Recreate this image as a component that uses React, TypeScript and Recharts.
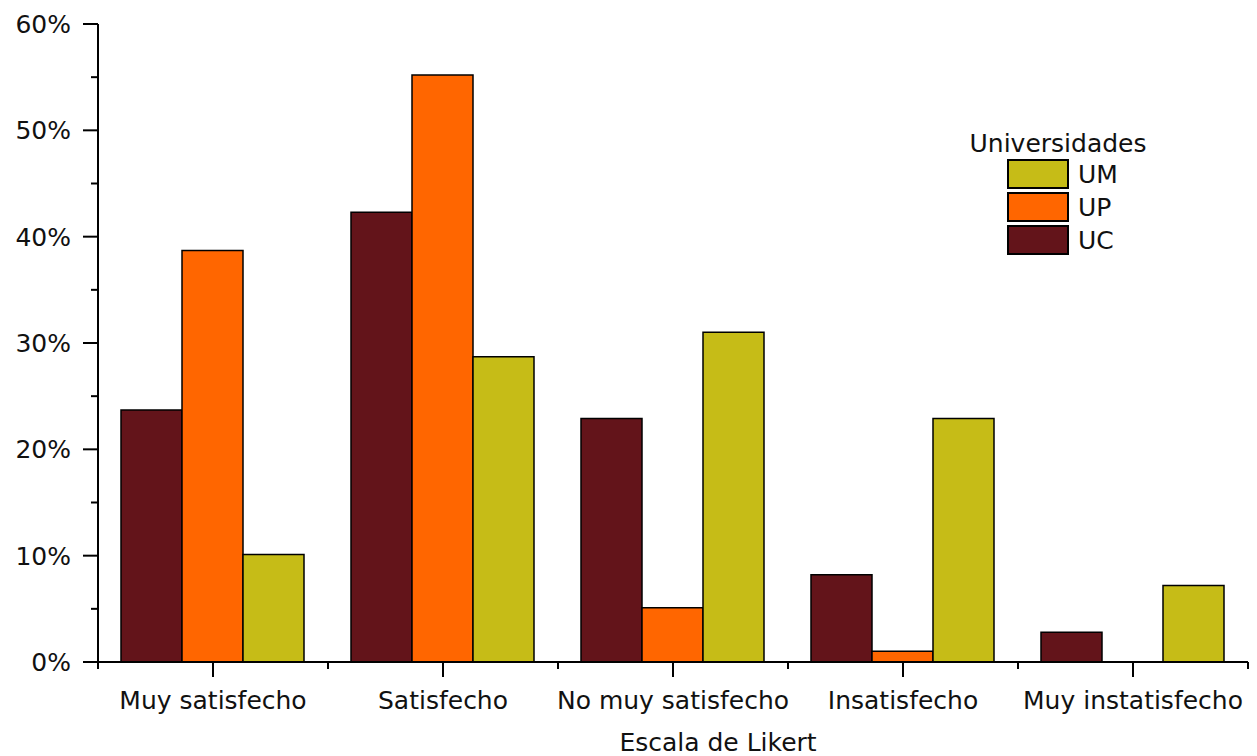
import React from 'react';
import { BarChart, Bar, XAxis, YAxis, Legend } from 'recharts';

document.body.style.margin = '0';

const categories = ['Muy satisfecho', 'Satisfecho', 'No muy satisfecho', 'Insatisfecho', 'Muy instatisfecho'];
const ucValues = [23.7, 42.3, 22.9, 8.2, 2.8];
const upValues = [38.7, 55.2, 5.1, 1.0, 0];
const umValues = [10.1, 28.7, 31.0, 22.9, 7.2];
const yTicks = [0, 5, 10, 15, 20, 25, 30, 35, 40, 45, 50, 55, 60];

const series = [
  { key: 'UC', color: '#63141A' },
  { key: 'UP', color: '#FF6600' },
  { key: 'UM', color: '#C6BC17' },
];

const data = categories.map((name, i) => ({
  name,
  UC: ucValues[i],
  UP: upValues[i],
  UM: umValues[i],
}));

const FONT = '"DejaVu Sans", Verdana, sans-serif';
const FS = 25;
const AXIS_X = 98;
const AXIS_Y = 662;
const HALF_BAND = 115;

const YTick = (props: any) => {
  const { y, payload } = props;
  const major = payload.value % 10 === 0;
  return (
    <g>
      <line x1={AXIS_X - (major ? 15 : 7)} x2={AXIS_X} y1={y} y2={y} stroke="#000" strokeWidth={2} />
      {major && (
        <text x={71} y={y} dy="0.36em" textAnchor="end" fontSize={FS} fontFamily={FONT} fill="#111">
          {`${payload.value}%`}
        </text>
      )}
    </g>
  );
};

const XTick = (props: any) => {
  const { x, payload, index } = props;
  const last = index === categories.length - 1;
  return (
    <g>
      <line x1={x} x2={x} y1={AXIS_Y} y2={AXIS_Y + 15} stroke="#000" strokeWidth={2} />
      <line x1={x - HALF_BAND} x2={x - HALF_BAND} y1={AXIS_Y} y2={AXIS_Y + 7} stroke="#000" strokeWidth={2} />
      {last && (
        <line x1={x + HALF_BAND} x2={x + HALF_BAND} y1={AXIS_Y} y2={AXIS_Y + 7} stroke="#000" strokeWidth={2} />
      )}
      <text x={x} y={AXIS_Y + 47} textAnchor="middle" fontSize={FS} fontFamily={FONT} fill="#111">
        {payload.value}
      </text>
    </g>
  );
};

const XTitle = () => (
  <text x={718} y={751} textAnchor="middle" fontSize={FS} fontFamily={FONT} fill="#111">
    Escala de Likert
  </text>
);

const LegendBox = () => {
  const rows = [...series].reverse();
  return (
    <svg width={220} height={150} style={{ display: 'block', overflow: 'visible' }}>
      <text x={98} y={32} textAnchor="middle" fontSize={FS} fontFamily={FONT} fill="#111">
        Universidades
      </text>
      {rows.map((s, i) => (
        <g key={s.key}>
          <rect x={48} y={40 + i * 33} width={60} height={28} fill={s.color} stroke="#000" strokeWidth={2} />
          <text x={118} y={63 + i * 33} fontSize={FS} fontFamily={FONT} fill="#111">
            {s.key}
          </text>
        </g>
      ))}
    </svg>
  );
};

export default function App() {
  return (
    <div style={{ width: 1257, height: 756, background: '#fff', overflow: 'hidden' }}>
      <BarChart
        width={1257}
        height={756}
        data={data}
        margin={{ top: 24, right: 9, left: 0, bottom: 0 }}
        barCategoryGap={23}
        barGap={0}
      >
        <XAxis
          dataKey="name"
          height={94}
          axisLine={{ stroke: '#000', strokeWidth: 2 }}
          tickLine={false}
          tick={<XTick />}
          interval={0}
          label={{ content: () => <XTitle /> }}
        />
        <XAxis xAxisId="top" dataKey="name" orientation="top" height={0} tick={false} tickLine={false}
          axisLine={{ stroke: '#000', strokeWidth: 2 }} />
        <YAxis
          width={98}
          domain={[0, 60]}
          ticks={yTicks}
          interval={0}
          axisLine={{ stroke: '#000', strokeWidth: 2 }}
          tickLine={false}
          tick={<YTick />}
        />
        <YAxis yAxisId="right" orientation="right" width={0} domain={[0, 60]} tick={false} tickLine={false}
          axisLine={{ stroke: '#000', strokeWidth: 2 }} />
        <Legend
          layout="vertical"
          align="center"
          verticalAlign="middle"
          content={() => <LegendBox />}
          wrapperStyle={{ position: 'absolute', left: 960, top: 120, width: 220, height: 150 }}
        />
        {series.map((s) => (
          <Bar key={s.key} dataKey={s.key} fill={s.color} stroke="#000" strokeWidth={1.5} isAnimationActive={false} />
        ))}
      </BarChart>
    </div>
  );
}
